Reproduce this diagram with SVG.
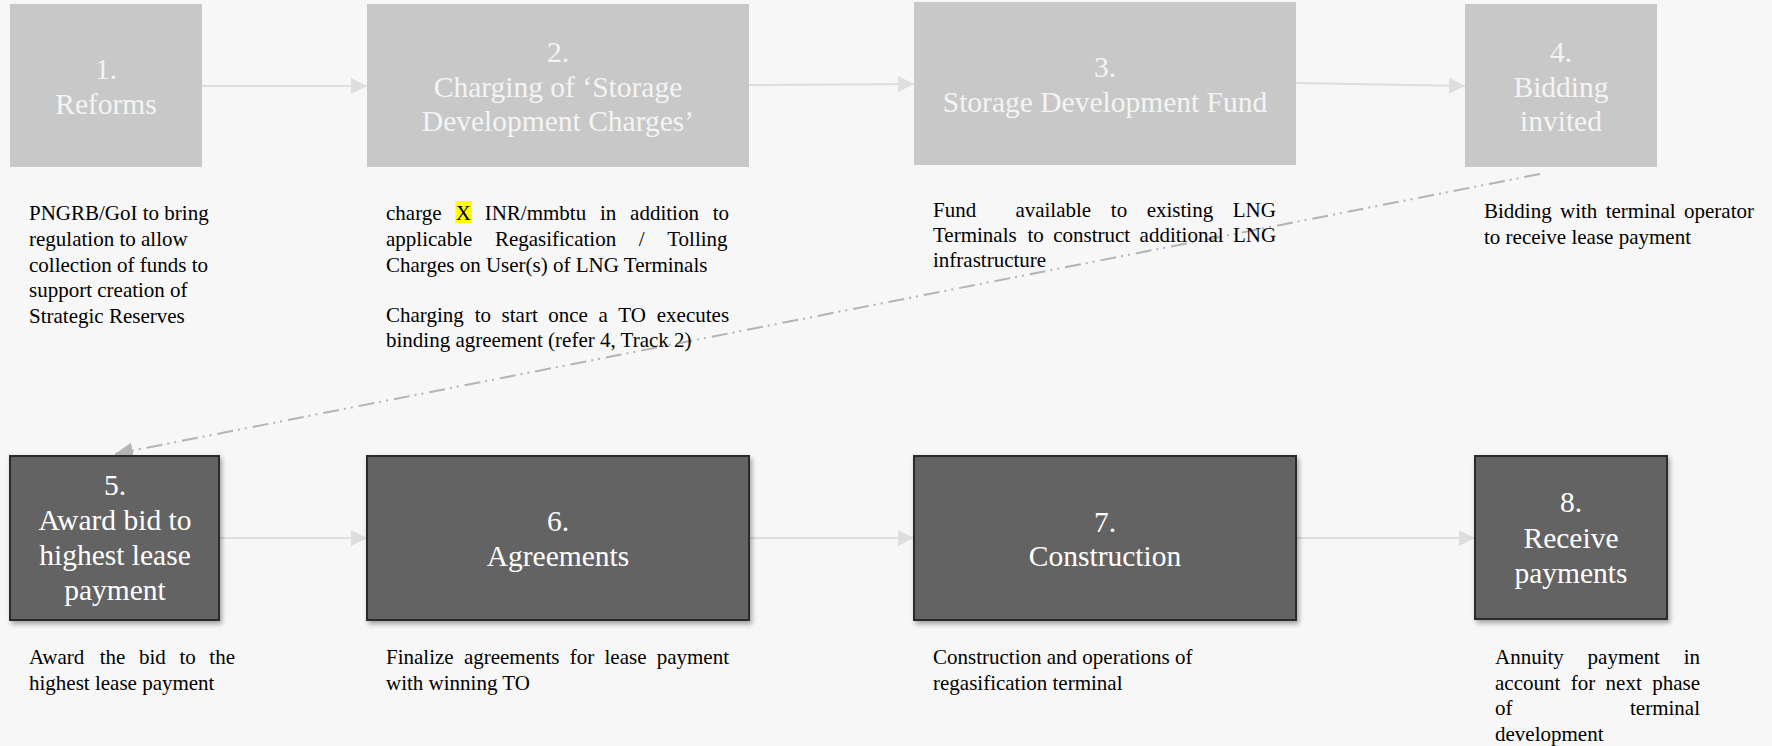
<svg xmlns="http://www.w3.org/2000/svg" width="1772" height="746" viewBox="0 0 1772 746">
<defs>
<style>
.light{fill:#c8c8c8}
.dark{fill:#636363;stroke:#2b2b2b;stroke-width:2}
.tl{font-family:"Liberation Serif","Times New Roman",serif;font-size:29.5px;fill:#f4f4f4;text-anchor:middle}
.td{font-family:"Liberation Serif","Times New Roman",serif;font-size:29.5px;fill:#ffffff;text-anchor:middle}
.d{font-family:"Liberation Serif","Times New Roman",serif;font-size:21px;fill:#000000}
.conn{stroke:#dedede;stroke-width:2;fill:none}
.dash{stroke:#b4b4b4;stroke-width:2;fill:none;stroke-dasharray:16 6 2 5 2 5}
</style>
<marker id="ah" markerWidth="16" markerHeight="16" refX="16" refY="8" orient="auto" markerUnits="userSpaceOnUse">
<path d="M0,0 L16,8 L0,16 Z" fill="#dedede"/>
</marker>
<marker id="ah2" markerWidth="18" markerHeight="16" refX="18" refY="8" orient="auto" markerUnits="userSpaceOnUse">
<path d="M0,0 L18,8 L0,16 Z" fill="#b4b4b4"/>
</marker>
<filter id="sh" x="-10%" y="-10%" width="125%" height="125%">
<feDropShadow dx="2" dy="3" stdDeviation="2.5" flood-color="#000" flood-opacity="0.35"/>
</filter>
</defs>
<rect width="1772" height="746" fill="#f7f7f7"/>

<g id="connectors">
<line class="conn" x1="202" y1="86" x2="367" y2="86" marker-end="url(#ah)"/>
<line class="conn" x1="749" y1="85" x2="914" y2="84" marker-end="url(#ah)"/>
<line class="conn" x1="1296" y1="83" x2="1465" y2="86" marker-end="url(#ah)"/>
<line class="conn" x1="220" y1="538" x2="367" y2="538" marker-end="url(#ah)"/>
<line class="conn" x1="749" y1="538" x2="914" y2="538" marker-end="url(#ah)"/>
<line class="conn" x1="1296" y1="538" x2="1475" y2="538" marker-end="url(#ah)"/>
<line class="dash" x1="1540" y1="174" x2="115" y2="454" marker-end="url(#ah2)"/>
</g>

<g id="node1">
<rect class="light" x="10" y="4" width="192" height="163"/>
<text class="tl" x="106" y="79">1.</text>
<text class="tl" x="106" y="114">Reforms</text>
</g>
<g id="node2">
<rect class="light" x="367" y="4" width="382" height="163"/>
<text class="tl" x="558" y="62">2.</text>
<text class="tl" x="558" y="97">Charging of ‘Storage</text>
<text class="tl" x="558" y="131">Development Charges’</text>
</g>
<g id="node3">
<rect class="light" x="914" y="2" width="382" height="163"/>
<text class="tl" x="1105" y="77">3.</text>
<text class="tl" x="1105" y="112">Storage Development Fund</text>
</g>
<g id="node4">
<rect class="light" x="1465" y="4" width="192" height="163"/>
<text class="tl" x="1561" y="62">4.</text>
<text class="tl" x="1561" y="97">Bidding</text>
<text class="tl" x="1561" y="131">invited</text>
</g>

<g id="node5">
<rect class="dark" x="10" y="456" width="209" height="164" filter="url(#sh)"/>
<text class="td" x="115" y="495">5.</text>
<text class="td" x="115" y="530">Award bid to</text>
<text class="td" x="115" y="565">highest lease</text>
<text class="td" x="115" y="600">payment</text>
</g>
<g id="node6">
<rect class="dark" x="367" y="456" width="382" height="164" filter="url(#sh)"/>
<text class="td" x="558" y="531">6.</text>
<text class="td" x="558" y="566">Agreements</text>
</g>
<g id="node7">
<rect class="dark" x="914" y="456" width="382" height="164" filter="url(#sh)"/>
<text class="td" x="1105" y="532">7.</text>
<text class="td" x="1105" y="566">Construction</text>
</g>
<g id="node8">
<rect class="dark" x="1475" y="456" width="192" height="163" filter="url(#sh)"/>
<text class="td" x="1571" y="512">8.</text>
<text class="td" x="1571" y="548">Receive</text>
<text class="td" x="1571" y="583">payments</text>
</g>

<g id="desc1">
<text class="d" x="29" y="220">PNGRB/GoI to bring</text>
<text class="d" x="29" y="246">regulation to allow</text>
<text class="d" x="29" y="272">collection of funds to</text>
<text class="d" x="29" y="297">support creation of</text>
<text class="d" x="29" y="323">Strategic Reserves</text>
</g>
<g id="desc2">
<rect x="455.5" y="201" width="16.5" height="22" fill="#ffff00"/>
<text class="d" y="220"><tspan x="386">charge</tspan><tspan x="455.8">X</tspan><tspan x="484.7">INR/mmbtu</tspan><tspan x="600">in</tspan><tspan x="630.1">addition</tspan><tspan x="712.7">to</tspan></text>
<text class="d" y="246"><tspan x="386">applicable</tspan><tspan x="494.9">Regasification</tspan><tspan x="638.8">/</tspan><tspan x="667.2">Tolling</tspan></text>
<text class="d" x="386" y="272">Charges on User(s) of LNG Terminals</text>
<text class="d" y="322"><tspan x="386">Charging</tspan><tspan x="474.7">to</tspan><tspan x="501.6">start</tspan><tspan x="548.3">once</tspan><tspan x="598.4">a</tspan><tspan x="618.3">TO</tspan><tspan x="656.8">executes</tspan></text>
<text class="d" x="386" y="347">binding agreement (refer 4, Track 2)</text>
</g>
<g id="desc3">
<text class="d" y="217"><tspan x="933">Fund</tspan><tspan x="1015.4">available</tspan><tspan x="1110.8">to</tspan><tspan x="1146.7">existing</tspan><tspan x="1232.8">LNG</tspan></text>
<text class="d" y="242"><tspan x="933">Terminals</tspan><tspan x="1027.5">to</tspan><tspan x="1053.2">construct</tspan><tspan x="1139.6">additional</tspan><tspan x="1232.9">LNG</tspan></text>
<text class="d" x="933" y="267">infrastructure</text>
</g>
<g id="desc4">
<text class="d" y="218"><tspan x="1484">Bidding</tspan><tspan x="1560">with</tspan><tspan x="1605.7">terminal</tspan><tspan x="1684">operator</tspan></text>
<text class="d" x="1484" y="244">to receive lease payment</text>
</g>
<g id="desc5">
<text class="d" y="664"><tspan x="29">Award</tspan><tspan x="99.7">the</tspan><tspan x="139">bid</tspan><tspan x="179.4">to</tspan><tspan x="209.3">the</tspan></text>
<text class="d" x="29" y="690">highest lease payment</text>
</g>
<g id="desc6">
<text class="d" y="664"><tspan x="386">Finalize</tspan><tspan x="463.9">agreements</tspan><tspan x="569.8">for</tspan><tspan x="604.5">lease</tspan><tspan x="656.7">payment</tspan></text>
<text class="d" x="386" y="690">with winning TO</text>
</g>
<g id="desc7">
<text class="d" x="933" y="664">Construction and operations of</text>
<text class="d" x="933" y="690">regasification terminal</text>
</g>
<g id="desc8">
<text class="d" y="664"><tspan x="1495">Annuity</tspan><tspan x="1587.6">payment</tspan><tspan x="1683.7">in</tspan></text>
<text class="d" y="690"><tspan x="1495">account</tspan><tspan x="1570.7">for</tspan><tspan x="1605.6">next</tspan><tspan x="1652.2">phase</tspan></text>
<text class="d" y="715"><tspan x="1495">of</tspan><tspan x="1630">terminal</tspan></text>
<text class="d" x="1495" y="741">development</text>
</g>
</svg>
